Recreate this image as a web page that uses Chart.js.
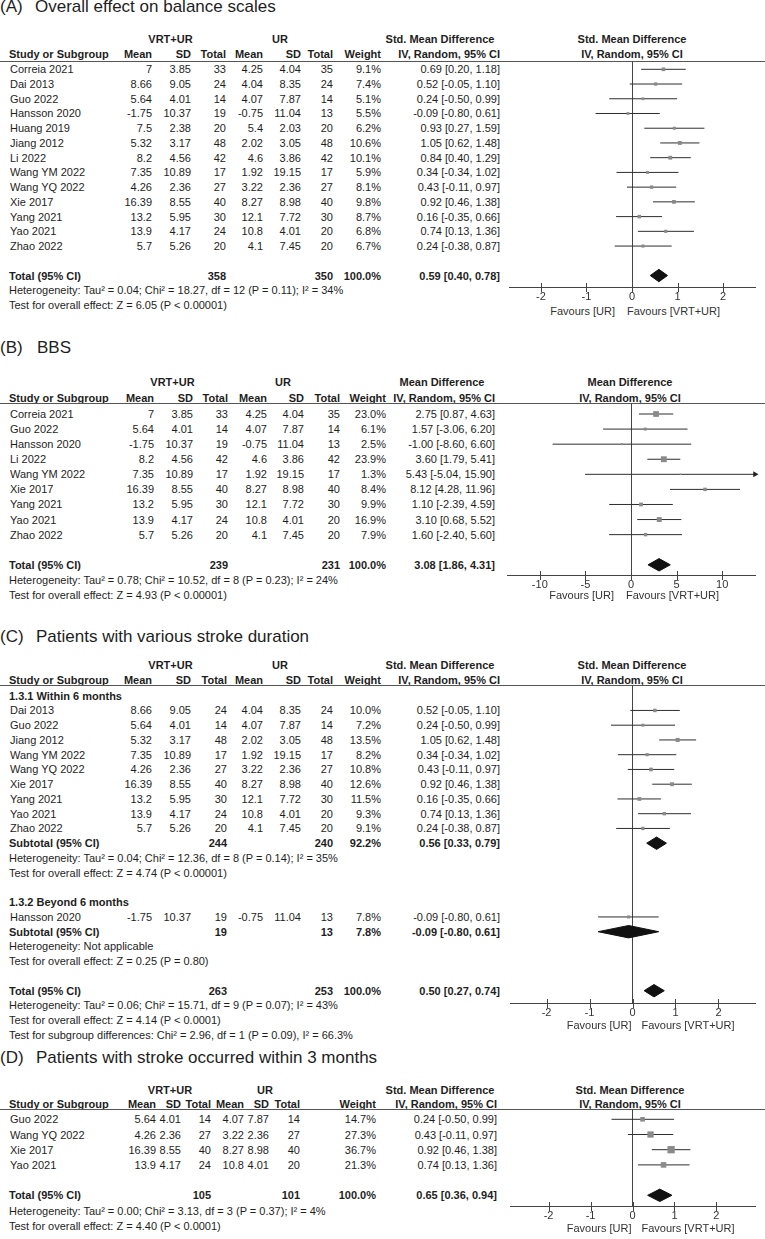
<!DOCTYPE html>
<html><head><meta charset="utf-8"><title>Forest plots</title>
<script src="https://cdn.jsdelivr.net/npm/chart.js@4.4.1/dist/chart.umd.min.js"></script>
<style>
html,body{margin:0;padding:0;background:#fff;}
#page{position:relative;width:765px;height:1239px;overflow:hidden;font-family:"Liberation Sans",Arial,Helvetica,sans-serif;color:#1e1e1e;}
.t{position:absolute;white-space:pre;}
.hl{position:absolute;left:0;width:765px;height:1px;background:#555;}
canvas{position:absolute;}
</style></head><body><div id="page"></div>
<script>
// ================= DATA =================
// ---- (A) Overall effect on balance scales ----
const A_studies  = ["Correia 2021","Dai 2013","Guo 2022","Hansson 2020","Huang 2019","Jiang 2012","Li 2022","Wang YM 2022","Wang YQ 2022","Xie 2017","Yang 2021","Yao 2021","Zhao 2022"];
const A_expMean  = [7, 8.66, 5.64, -1.75, 7.5, 5.32, 8.2, 7.35, 4.26, 16.39, 13.2, 13.9, 5.7];
const A_expSD    = [3.85, 9.05, 4.01, 10.37, 2.38, 3.17, 4.56, 10.89, 2.36, 8.55, 5.95, 4.17, 5.26];
const A_expN     = [33, 24, 14, 19, 20, 48, 42, 17, 27, 40, 30, 24, 20];
const A_ctlMean  = [4.25, 4.04, 4.07, -0.75, 5.4, 2.02, 4.6, 1.92, 3.22, 8.27, 12.1, 10.8, 4.1];
const A_ctlSD    = [4.04, 8.35, 7.87, 11.04, 2.03, 3.05, 3.86, 19.15, 2.36, 8.98, 7.72, 4.01, 7.45];
const A_ctlN     = [35, 24, 14, 13, 20, 48, 42, 17, 27, 40, 30, 20, 20];
const A_weight   = [9.1, 7.4, 5.1, 5.5, 6.2, 10.6, 10.1, 5.9, 8.1, 9.8, 8.7, 6.8, 6.7];
const A_est      = [0.69, 0.52, 0.24, -0.09, 0.93, 1.05, 0.84, 0.34, 0.43, 0.92, 0.16, 0.74, 0.24];
const A_lo       = [0.20, -0.05, -0.50, -0.80, 0.27, 0.62, 0.40, -0.34, -0.11, 0.46, -0.35, 0.13, -0.38];
const A_hi       = [1.18, 1.10, 0.99, 0.61, 1.59, 1.48, 1.29, 1.02, 0.97, 1.38, 0.66, 1.36, 0.87];
const A_totalN   = [358, 350];
const A_totalCI  = [0.59, 0.40, 0.78];
const A_notes    = ["Heterogeneity: Tau\u00B2 = 0.04; Chi\u00B2 = 18.27, df = 12 (P = 0.11); I\u00B2 = 34%", "Test for overall effect: Z = 6.05 (P < 0.00001)"];
const A_ticks    = [-2, -1, 0, 1, 2];
const A_range    = [-2.7, 2.7];

// ---- (B) BBS ----
const B_studies  = ["Correia 2021","Guo 2022","Hansson 2020","Li 2022","Wang YM 2022","Xie 2017","Yang 2021","Yao 2021","Zhao 2022"];
const B_expMean  = [7, 5.64, -1.75, 8.2, 7.35, 16.39, 13.2, 13.9, 5.7];
const B_expSD    = [3.85, 4.01, 10.37, 4.56, 10.89, 8.55, 5.95, 4.17, 5.26];
const B_expN     = [33, 14, 19, 42, 17, 40, 30, 24, 20];
const B_ctlMean  = [4.25, 4.07, -0.75, 4.6, 1.92, 8.27, 12.1, 10.8, 4.1];
const B_ctlSD    = [4.04, 7.87, 11.04, 3.86, 19.15, 8.98, 7.72, 4.01, 7.45];
const B_ctlN     = [35, 14, 13, 42, 17, 40, 30, 20, 20];
const B_weight   = [23.0, 6.1, 2.5, 23.9, 1.3, 8.4, 9.9, 16.9, 7.9];
const B_est      = [2.75, 1.57, -1.00, 3.60, 5.43, 8.12, 1.10, 3.10, 1.60];
const B_lo       = [0.87, -3.06, -8.60, 1.79, -5.04, 4.28, -2.39, 0.68, -2.40];
const B_hi       = [4.63, 6.20, 6.60, 5.41, 15.90, 11.96, 4.59, 5.52, 5.60];
const B_totalN   = [239, 231];
const B_totalCI  = [3.08, 1.86, 4.31];
const B_notes    = ["Heterogeneity: Tau\u00B2 = 0.78; Chi\u00B2 = 10.52, df = 8 (P = 0.23); I\u00B2 = 24%", "Test for overall effect: Z = 4.93 (P < 0.00001)"];
const B_ticks    = [-10, -5, 0, 5, 10];
const B_range    = [-13.6, 13.6];

// ---- (C) Patients with various stroke duration ----
const C1_label   = "1.3.1 Within 6 months";
const C1_studies = ["Dai 2013","Guo 2022","Jiang 2012","Wang YM 2022","Wang YQ 2022","Xie 2017","Yang 2021","Yao 2021","Zhao 2022"];
const C1_expMean = [8.66, 5.64, 5.32, 7.35, 4.26, 16.39, 13.2, 13.9, 5.7];
const C1_expSD   = [9.05, 4.01, 3.17, 10.89, 2.36, 8.55, 5.95, 4.17, 5.26];
const C1_expN    = [24, 14, 48, 17, 27, 40, 30, 24, 20];
const C1_ctlMean = [4.04, 4.07, 2.02, 1.92, 3.22, 8.27, 12.1, 10.8, 4.1];
const C1_ctlSD   = [8.35, 7.87, 3.05, 19.15, 2.36, 8.98, 7.72, 4.01, 7.45];
const C1_ctlN    = [24, 14, 48, 17, 27, 40, 30, 20, 20];
const C1_weight  = [10.0, 7.2, 13.5, 8.2, 10.8, 12.6, 11.5, 9.3, 9.1];
const C1_est     = [0.52, 0.24, 1.05, 0.34, 0.43, 0.92, 0.16, 0.74, 0.24];
const C1_lo      = [-0.05, -0.50, 0.62, -0.34, -0.11, 0.46, -0.35, 0.13, -0.38];
const C1_hi      = [1.10, 0.99, 1.48, 1.02, 0.97, 1.38, 0.66, 1.36, 0.87];
const C1_subN    = [244, 240];
const C1_subW    = 92.2;
const C1_subCI   = [0.56, 0.33, 0.79];
const C1_notes   = ["Heterogeneity: Tau\u00B2 = 0.04; Chi\u00B2 = 12.36, df = 8 (P = 0.14); I\u00B2 = 35%", "Test for overall effect: Z = 4.74 (P < 0.00001)"];
const C2_label   = "1.3.2 Beyond 6 months";
const C2_studies = ["Hansson 2020"];
const C2_expMean = [-1.75];
const C2_expSD   = [10.37];
const C2_expN    = [19];
const C2_ctlMean = [-0.75];
const C2_ctlSD   = [11.04];
const C2_ctlN    = [13];
const C2_weight  = [7.8];
const C2_est     = [-0.09];
const C2_lo      = [-0.80];
const C2_hi      = [0.61];
const C2_subN    = [19, 13];
const C2_subW    = 7.8;
const C2_subCI   = [-0.09, -0.80, 0.61];
const C2_notes   = ["Heterogeneity: Not applicable", "Test for overall effect: Z = 0.25 (P = 0.80)"];
const C_totalN   = [263, 253];
const C_totalCI  = [0.50, 0.27, 0.74];
const C_notes    = ["Heterogeneity: Tau\u00B2 = 0.06; Chi\u00B2 = 15.71, df = 9 (P = 0.07); I\u00B2 = 43%", "Test for overall effect: Z = 4.14 (P < 0.0001)", "Test for subgroup differences: Chi\u00B2 = 2.96, df = 1 (P = 0.09), I\u00B2 = 66.3%"];
const C_ticks    = [-2, -1, 0, 1, 2];
const C_range    = [-2.85, 2.85];

// ---- (D) Patients with stroke occurred within 3 months ----
const D_studies  = ["Guo 2022","Wang YQ 2022","Xie 2017","Yao 2021"];
const D_expMean  = [5.64, 4.26, 16.39, 13.9];
const D_expSD    = [4.01, 2.36, 8.55, 4.17];
const D_expN     = [14, 27, 40, 24];
const D_ctlMean  = [4.07, 3.22, 8.27, 10.8];
const D_ctlSD    = [7.87, 2.36, 8.98, 4.01];
const D_ctlN     = [14, 27, 40, 20];
const D_weight   = [14.7, 27.3, 36.7, 21.3];
const D_est      = [0.24, 0.43, 0.92, 0.74];
const D_lo       = [-0.50, -0.11, 0.46, 0.13];
const D_hi       = [0.99, 0.97, 1.38, 1.36];
const D_totalN   = [105, 101];
const D_totalCI  = [0.65, 0.36, 0.94];
const D_notes    = ["Heterogeneity: Tau\u00B2 = 0.00; Chi\u00B2 = 3.13, df = 3 (P = 0.37); I\u00B2 = 4%", "Test for overall effect: Z = 4.40 (P < 0.0001)"];
const D_ticks    = [-2, -1, 0, 1, 2];
const D_range    = [-2.92, 2.92];

const GROUP_HEAD = ["VRT+UR", "UR"];
const COL_HEAD   = ["Mean", "SD", "Total", "Mean", "SD", "Total", "Weight"];
const FAVOURS    = ["Favours [UR]", "Favours [VRT+UR]"];

// ================= LAYOUT (positions / styles only) =================
const A_layout = {fs:11, titleY:7,   grpY:39,  hdrY:54,  lineY:61,  row0:69.3,  pitch:14.73, cols:[152,191,226,263,301,333,381], ciR:500, vrtC:170.5, urC:280, ciC:440, fC:632, plotL:509, plotR:755, axisY:287,  favY:311,  favL:-17, favR:-5, sqK:1.2,  titleX2:35};
const B_layout = {fs:11, titleY:348, grpY:382, hdrY:398, lineY:403, row0:414,   pitch:15.08, cols:[154,193,228,267,304,340,386], ciR:495, vrtC:172.5, urC:283, ciC:442, fC:630, plotL:507, plotR:755, axisY:575,  favY:595,  favL:-17, favR:-5, sqK:1.2,  titleX2:37};
const C_layout = {fs:11, titleY:637, grpY:665, hdrY:680, lineY:685, row0:695.7, pitch:14.75, cols:[152,191,227,263,301,333,381], ciR:500, vrtC:170.5, urC:280, ciC:440, fC:632, plotL:510, plotR:755, axisY:1003, favY:1025, favL:-1,  favR:9,  sqK:1.1,  titleX2:36};
const D_layout = {fs:11, titleY:1058,grpY:1090,hdrY:1104,lineY:1109,row0:1119.3,pitch:15.2,  cols:[156,181,211,244,269,300,376], ciR:497, vrtC:170,   urC:265, ciC:440, fC:630, plotL:510, plotR:755, axisY:1206, favY:1228, favL:-1,  favR:9,  sqK:1.2,  titleX2:36};

const FONT = '"Liberation Sans", Arial, Helvetica, sans-serif';
const page = document.getElementById('page');

function txt(s, x, y, align, o) {
  o = o || {};
  const size = o.size || 11, lh = Math.round(size * 1.3);
  const d = document.createElement('div');
  d.className = 't';
  d.textContent = s;
  d.style.fontSize = size + 'px';
  d.style.lineHeight = lh + 'px';
  d.style.top = (y - lh / 2) + 'px';
  if (o.bold) d.style.fontWeight = 'bold';
  if (o.color) d.style.color = o.color;
  if (align === 'left') { d.style.left = x + 'px'; }
  else if (align === 'right') { d.style.left = (x - 400) + 'px'; d.style.width = '400px'; d.style.textAlign = 'right'; }
  else { d.style.left = (x - 200) + 'px'; d.style.width = '400px'; d.style.textAlign = 'center'; }
  page.appendChild(d);
  return d;
}
const f2 = v => v.toFixed(2);
const ciText = (e, l, h) => f2(e) + ' [' + f2(l) + ', ' + f2(h) + ']';
const pct = w => w.toFixed(1) + '%';

function header(L, letter, title, measure) {
  txt(letter, 0, L.titleY, 'left', {size:17});
  txt(title, L.titleX2, L.titleY, 'left', {size:17});
  const b = {bold:true, size:L.fs};
  txt(GROUP_HEAD[0], L.vrtC, L.grpY, 'center', b);
  txt(GROUP_HEAD[1], L.urC, L.grpY, 'center', b);
  txt(measure, L.ciC, L.grpY, 'center', b);
  txt(measure, L.fC, L.grpY, 'center', b);
  txt('Study or Subgroup', 9, L.hdrY, 'left', b);
  COL_HEAD.forEach((h, k) => txt(h, L.cols[k], L.hdrY, 'right', b));
  txt('IV, Random, 95% CI', L.ciR, L.hdrY, 'right', b);
  txt('IV, Random, 95% CI', L.fC, L.hdrY, 'center', b);
  const hl = document.createElement('div');
  hl.className = 'hl'; hl.style.top = L.lineY + 'px';
  page.appendChild(hl);
}
const rowY = (L, r) => L.row0 + r * L.pitch;

function studyRows(L, r0, names, em, esd, en, cm, csd, cn, w, e, lo, hi) {
  const o = {size:L.fs};
  names.forEach((n, i) => {
    const y = rowY(L, r0 + i);
    txt(n, 10, y, 'left', o);
    [em[i], esd[i], en[i], cm[i], csd[i], cn[i]].forEach((v, k) => txt(String(v), L.cols[k], y, 'right', o));
    txt(pct(w[i]), L.cols[6], y, 'right', o);
    txt(ciText(e[i], lo[i], hi[i]), L.ciR, y, 'right', o);
  });
  return names.map((_, i) => r0 + i);
}
function sumRow(L, r, label, n, w, c) {
  const y = rowY(L, r), o = {size:L.fs, bold:true};
  txt(label, 9, y, 'left', o);
  txt(String(n[0]), L.cols[2], y, 'right', o);
  txt(String(n[1]), L.cols[5], y, 'right', o);
  txt(pct(w), L.cols[6], y, 'right', o);
  txt(ciText(c[0], c[1], c[2]), L.ciR, y, 'right', o);
}
function noteRows(L, r0, notes) {
  notes.forEach((s, i) => txt(s, 9, rowY(L, r0 + i), 'left', {size:L.fs}));
}

const tickMarks = {
  id: 'tickMarks',
  afterDraw(chart) {
    const sx = chart.scales.x, yb = chart.chartArea.bottom, ctx = chart.ctx;
    ctx.save();
    ctx.strokeStyle = '#444'; ctx.lineWidth = 1;
    ctx.beginPath();
    sx.ticks.forEach(t => {
      const px = Math.round(sx.getPixelForValue(t.value)) + 0.5;
      ctx.moveTo(px, yb - 4); ctx.lineTo(px, yb + 5);
    });
    ctx.stroke();
    ctx.restore();
  }
};

function forest(L, F) {
  const axisH = 17;
  const left = L.plotL - 12;
  const top = L.lineY;
  const w = 765 - left;
  const areaH = Math.round(L.axisY - L.lineY);
  const h = areaH + axisH;
  const cv = document.createElement('canvas');
  cv.width = w; cv.height = h;
  cv.style.left = left + 'px'; cv.style.top = top + 'px';
  cv.style.width = w + 'px'; cv.style.height = h + 'px';
  page.appendChild(cv);
  const yMin = (L.lineY - L.row0) / L.pitch;
  const yMax = (L.lineY + areaH - L.row0) / L.pitch;
  const dh = 6.2 / L.pitch;
  const xMin = F.range[0], xMax = F.range[1];

  const datasets = [];
  datasets.push({
    type: 'line', showLine: false, order: 0,
    data: F.est.map((e, i) => ({x: e, y: F.rows[i]})),
    pointStyle: 'rect',
    pointRadius: F.weight.map(wt => Math.max(1.1, L.sqK * Math.sqrt(wt) / Math.SQRT2)),
    pointBackgroundColor: '#8a8a8a', pointBorderColor: '#8a8a8a', pointBorderWidth: 0
  });
  F.sums.forEach(s => {
    datasets.push({type:'line', order:1, fill:'+1', data:[{x:s.lo, y:s.r}, {x:s.est, y:s.r - dh}, {x:s.hi, y:s.r}],
      borderColor:'#111', backgroundColor:'#111', borderWidth:1, pointRadius:0, tension:0});
    datasets.push({type:'line', order:1, fill:false, data:[{x:s.lo, y:s.r}, {x:s.est, y:s.r + dh}, {x:s.hi, y:s.r}],
      borderColor:'#111', backgroundColor:'#111', borderWidth:1, pointRadius:0, tension:0});
  });
  F.est.forEach((e, i) => {
    datasets.push({type:'line', order:2, fill:false, data:[{x:F.lo[i], y:F.rows[i]}, {x:F.hi[i], y:F.rows[i]}],
      borderColor:'#2e2e2e', borderWidth:1, pointRadius:0, tension:0});
  });
  F.hi.forEach((v, i) => {
    if (v > xMax) datasets.push({type:'line', order:0, showLine:false, clip:false, data:[{x:xMax, y:F.rows[i]}],
      pointStyle:'triangle', pointRotation:90, pointRadius:3.5, pointBackgroundColor:'#222', pointBorderColor:'#222', pointBorderWidth:0});
  });
  F.lo.forEach((v, i) => {
    if (v < xMin) datasets.push({type:'line', order:0, showLine:false, clip:false, data:[{x:xMin, y:F.rows[i]}],
      pointStyle:'triangle', pointRotation:-90, pointRadius:3.5, pointBackgroundColor:'#222', pointBorderColor:'#222', pointBorderWidth:0});
  });

  const chart = new Chart(cv, {
    type: 'line',
    data: { datasets },
    options: {
      responsive: false, animation: false, events: [],
      layout: { autoPadding: false, padding: { left: L.plotL - left, right: 765 - L.plotR, top: 0, bottom: 0 } },
      plugins: { legend: {display:false}, tooltip: {enabled:false} },
      scales: {
        x: {
          type: 'linear', min: xMin, max: xMax,
          afterBuildTicks: s => { s.ticks = F.ticks.map(v => ({value: v})); },
          afterFit: s => { s.height = axisH; },
          grid: { display: true, drawOnChartArea: true, drawTicks: false,
                  color: c => (c.tick && c.tick.value === 0) ? '#444' : 'rgba(0,0,0,0)', lineWidth: 1 },
          border: { display: true, color: '#444', width: 1 },
          ticks: { color: '#333', font: { family: FONT, size: 11 }, padding: 3, maxRotation: 0, autoSkip: false,
                   callback: v => String(v) }
        },
        y: { type: 'linear', display: false, reverse: true, min: yMin, max: yMax }
      }
    },
    plugins: [tickMarks]
  });
  const zero = left + chart.scales.x.getPixelForValue(0);
  txt(FAVOURS[0], zero + L.favL, L.favY, 'right', {size:11, color:'#333'});
  txt(FAVOURS[1], zero + L.favR, L.favY, 'left', {size:11, color:'#333'});
  return chart;
}

// ================= BUILD PANELS =================
(function () {
  const L = A_layout;
  header(L, '(A)', 'Overall effect on balance scales', 'Std. Mean Difference');
  const rows = studyRows(L, 0, A_studies, A_expMean, A_expSD, A_expN, A_ctlMean, A_ctlSD, A_ctlN, A_weight, A_est, A_lo, A_hi);
  const rt = A_studies.length + 1;
  sumRow(L, rt, 'Total (95% CI)', A_totalN, 100, A_totalCI);
  noteRows(L, rt + 1, A_notes);
  forest(L, {rows, est:A_est, lo:A_lo, hi:A_hi, weight:A_weight, ticks:A_ticks, range:A_range,
    sums:[{r:rt, est:A_totalCI[0], lo:A_totalCI[1], hi:A_totalCI[2]}]});
})();
(function () {
  const L = B_layout;
  header(L, '(B)', 'BBS', 'Mean Difference');
  const rows = studyRows(L, 0, B_studies, B_expMean, B_expSD, B_expN, B_ctlMean, B_ctlSD, B_ctlN, B_weight, B_est, B_lo, B_hi);
  const rt = B_studies.length + 1;
  sumRow(L, rt, 'Total (95% CI)', B_totalN, 100, B_totalCI);
  noteRows(L, rt + 1, B_notes);
  forest(L, {rows, est:B_est, lo:B_lo, hi:B_hi, weight:B_weight, ticks:B_ticks, range:B_range,
    sums:[{r:rt, est:B_totalCI[0], lo:B_totalCI[1], hi:B_totalCI[2]}]});
})();
(function () {
  const L = C_layout;
  header(L, '(C)', 'Patients with various stroke duration', 'Std. Mean Difference');
  let r = 0;
  txt(C1_label, 9, rowY(L, r), 'left', {size:L.fs, bold:true}); r++;
  const rows1 = studyRows(L, r, C1_studies, C1_expMean, C1_expSD, C1_expN, C1_ctlMean, C1_ctlSD, C1_ctlN, C1_weight, C1_est, C1_lo, C1_hi);
  r += C1_studies.length;
  const rs1 = r;
  sumRow(L, r, 'Subtotal (95% CI)', C1_subN, C1_subW, C1_subCI); r++;
  noteRows(L, r, C1_notes); r += C1_notes.length + 1;
  txt(C2_label, 9, rowY(L, r), 'left', {size:L.fs, bold:true}); r++;
  const rows2 = studyRows(L, r, C2_studies, C2_expMean, C2_expSD, C2_expN, C2_ctlMean, C2_ctlSD, C2_ctlN, C2_weight, C2_est, C2_lo, C2_hi);
  r += C2_studies.length;
  const rs2 = r;
  sumRow(L, r, 'Subtotal (95% CI)', C2_subN, C2_subW, C2_subCI); r++;
  noteRows(L, r, C2_notes); r += C2_notes.length + 1;
  const rt = r;
  sumRow(L, r, 'Total (95% CI)', C_totalN, 100, C_totalCI); r++;
  noteRows(L, r, C_notes);
  forest(L, {rows: rows1.concat(rows2), est: C1_est.concat(C2_est), lo: C1_lo.concat(C2_lo), hi: C1_hi.concat(C2_hi),
    weight: C1_weight.concat(C2_weight), ticks: C_ticks, range: C_range,
    sums: [{r:rs1, est:C1_subCI[0], lo:C1_subCI[1], hi:C1_subCI[2]},
           {r:rs2, est:C2_subCI[0], lo:C2_subCI[1], hi:C2_subCI[2]},
           {r:rt,  est:C_totalCI[0], lo:C_totalCI[1], hi:C_totalCI[2]}]});
})();
(function () {
  const L = D_layout;
  header(L, '(D)', 'Patients with stroke occurred within 3 months', 'Std. Mean Difference');
  const rows = studyRows(L, 0, D_studies, D_expMean, D_expSD, D_expN, D_ctlMean, D_ctlSD, D_ctlN, D_weight, D_est, D_lo, D_hi);
  const rt = D_studies.length + 1;
  sumRow(L, rt, 'Total (95% CI)', D_totalN, 100, D_totalCI);
  noteRows(L, rt + 1, D_notes);
  forest(L, {rows, est:D_est, lo:D_lo, hi:D_hi, weight:D_weight, ticks:D_ticks, range:D_range,
    sums:[{r:rt, est:D_totalCI[0], lo:D_totalCI[1], hi:D_totalCI[2]}]});
})();
</script></body></html>
